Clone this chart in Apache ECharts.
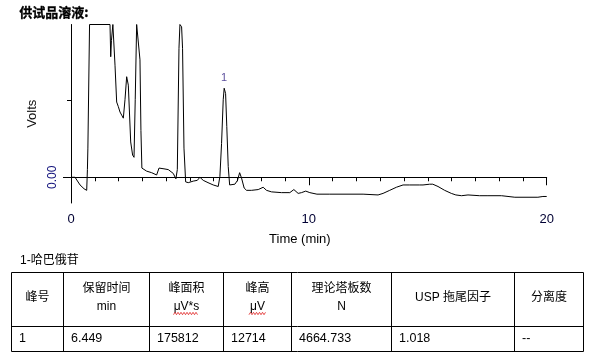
<!DOCTYPE html>
<html><head><meta charset="utf-8">
<script src="https://cdn.jsdelivr.net/npm/echarts@6/dist/echarts.min.js"></script>
<style>html,body{margin:0;padding:0;background:#fff}#c{width:595px;height:363px}</style>
</head><body><div id="c"></div>
<script>
// ---- data ----
const chartTitle = '供试品溶液:';
const xName = 'Time (min)';
const yName = 'Volts';
const times = [0, 0.17, 0.38, 0.55, 0.66, 0.69, 0.71, 0.78, 1.64, 1.67, 1.70, 1.76, 1.81, 1.85, 1.92, 1.99, 2.06, 2.13, 2.20, 2.27, 2.34, 2.37, 2.41, 2.51, 2.59, 2.65, 2.70, 2.76, 2.84, 2.90, 2.94, 2.98, 3.18, 3.39, 3.60, 3.70, 3.78, 3.91, 4.09, 4.30, 4.41, 4.47, 4.54, 4.58, 4.65, 4.69, 4.75, 4.82, 4.93, 5.14, 5.31, 5.42, 5.56, 5.76, 5.98, 6.19, 6.26, 6.33, 6.40, 6.44, 6.50, 6.55, 6.61, 6.67, 6.75, 6.89, 7.00, 7.09, 7.17, 7.28, 7.38, 7.59, 7.87, 8.08, 8.22, 8.43, 8.85, 9.20, 9.37, 9.55, 9.69, 9.87, 10.04, 10.34, 10.88, 12.28, 12.35, 12.91, 13.12, 13.40, 13.68, 13.96, 14.24, 14.66, 14.80, 15.08, 15.21, 15.43, 15.71, 15.99, 16.18, 16.42, 16.69, 17.18, 17.53, 17.61, 18.10, 18.66, 19.63, 19.84, 20.0];
const volts = [0, 0.00, -0.10, -0.15, -0.17, 0.10, 0.38, 1.99, 1.99, 1.57, 1.78, 1.99, 1.99, 1.46, 0.98, 0.92, 0.85, 0.81, 0.77, 1.01, 1.31, 1.33, 1.20, 0.46, 0.29, 0.26, 1.01, 1.99, 1.99, 1.53, 0.61, 0.12, 0.08, 0.06, 0.03, 0.12, 0.14, 0.11, 0.10, 0.05, -0.02, 0.10, 1.68, 1.99, 1.96, 1.68, 0.38, -0.06, -0.07, -0.05, -0.04, 0.00, -0.04, -0.07, -0.10, -0.12, 0.01, 0.44, 1.01, 1.16, 1.09, 0.66, 0.14, -0.10, -0.11, -0.09, -0.04, 0.06, -0.01, -0.14, -0.17, -0.17, -0.16, -0.13, -0.17, -0.19, -0.20, -0.20, -0.16, -0.21, -0.20, -0.18, -0.20, -0.22, -0.22, -0.22, -0.23, -0.23, -0.21, -0.17, -0.13, -0.10, -0.10, -0.10, -0.10, -0.09, -0.09, -0.12, -0.17, -0.21, -0.23, -0.24, -0.23, -0.24, -0.24, -0.25, -0.24, -0.26, -0.26, -0.25, -0.25];
const peakTimes = [6.44];
const peakVolts = [1.16];
const peakNames = ['1'];
const yLabelTicks = [0];
const yMinorTicks = [1];
const compoundName = '1-哈巴俄苷';
const tableHead1 = ['峰号', '保留时间', '峰面积', '峰高', '理论塔板数', 'USP 拖尾因子', '分离度'];
const tableHead2 = ['', 'min', 'μV*s', 'μV', 'N', '', ''];
const tableRow = ['1', '6.449', '175812', '12714', '4664.733', '1.018', '--'];
const flaggedUnits = ['μV*s', 'μV'];

// ---- layout ----
const colX = [11.5, 63.5, 149.5, 223.5, 291.5, 391.5, 514.5, 583.5];
const rowY = [272.5, 326.5, 351.5];
const FONT = '"Liberation Sans", Arial, "Noto Sans CJK SC", sans-serif';

const chart = echarts.init(document.getElementById('c'), null, {renderer: 'canvas'});
const graphics = [];
graphics.push({type: 'text', left: 19, top: 5, style: {text: chartTitle, font: 'bold 13px "Noto Sans CJK SC", sans-serif', fill: '#000', stroke: '#000', lineWidth: 0.3}});
graphics.push({type: 'text', x: 20, y: 261, style: {text: compoundName, font: '12px ' + FONT, fill: '#000', verticalAlign: 'middle'}});
// table lines
rowY.forEach(y => graphics.push({type: 'line', shape: {x1: colX[0], y1: y, x2: colX[colX.length - 1], y2: y}, style: {stroke: '#000', lineWidth: 1}}));
colX.forEach(x => graphics.push({type: 'line', shape: {x1: x, y1: rowY[0], x2: x, y2: rowY[2]}, style: {stroke: '#000', lineWidth: 1}}));
for (let i = 0; i < tableHead1.length; i++) {
  const cx = (colX[i] + colX[i + 1]) / 2;
  const two = tableHead2[i] !== '';
  graphics.push({type: 'text', x: cx, y: two ? 289 : 297.5, style: {text: tableHead1[i], font: '12px ' + FONT, fill: '#000', align: 'center', verticalAlign: 'middle'}});
  if (two) {
    graphics.push({type: 'text', x: cx, y: 307, style: {text: tableHead2[i], font: '12px ' + FONT, fill: '#000', align: 'center', verticalAlign: 'middle'}});
    if (flaggedUnits.indexOf(tableHead2[i]) >= 0) {
      const w = tableHead2[i] === 'μV*s' ? 24 : 17;
      const x0 = cx - (tableHead2[i] === 'μV*s' ? 13 : 8.5);
      const pts = [];
      for (let k = 0; k <= w; k += 1.5) pts.push([x0 + k, 313.5 + ((k / 1.5) % 2 ? -1.2 : 1.2)]);
      graphics.push({type: 'polyline', shape: {points: pts}, style: {stroke: '#e02020', lineWidth: 0.8, fill: null}});
    }
  }
  graphics.push({type: 'text', x: colX[i] + 7.5, y: 338.5, style: {text: tableRow[i], font: '12.5px ' + FONT, fill: '#000', verticalAlign: 'middle'}});
}

const option = {
  animation: false,
  backgroundColor: '#fff',
  grid: {left: 71, top: 24.5, right: 48.3, bottom: 160, containLabel: false},
  xAxis: {
    type: 'value', min: 0, max: 20, interval: 10,
    name: xName, nameLocation: 'middle', nameGap: 30,
    nameTextStyle: {fontSize: 13, color: '#000', fontFamily: FONT, padding: [0, 18, 0, 0]},
    axisLine: {lineStyle: {color: '#000', width: 1}},
    axisTick: {length: 8, lineStyle: {color: '#000'}},
    minorTick: {show: true, splitNumber: 10, length: 4, lineStyle: {color: '#000'}},
    splitLine: {show: false}, minorSplitLine: {show: false},
    axisLabel: {fontSize: 13, color: '#000033', fontFamily: FONT, margin: 10}
  },
  yAxis: [{
    type: 'value', min: -0.335, max: 1.99,
    name: yName, nameLocation: 'middle', nameGap: 31,
    nameTextStyle: {fontSize: 13, color: '#111', fontFamily: FONT},
    axisLine: {show: true, lineStyle: {color: '#000', width: 1}},
    axisTick: {show: true, customValues: yLabelTicks, length: 8, lineStyle: {color: '#000'}},
    axisLabel: {show: true, customValues: yLabelTicks, rotate: 90, fontSize: 12, color: '#10107a', fontFamily: FONT, margin: 12, formatter: v => v.toFixed(2)},
    splitLine: {show: false}
  }, {
    type: 'value', min: -0.335, max: 1.99, position: 'left',
    axisLine: {show: false},
    axisTick: {show: true, customValues: yMinorTicks, length: 4, lineStyle: {color: '#000'}},
    axisLabel: {show: false}, splitLine: {show: false}
  }],
  series: [{
    type: 'line', data: times.map((t, i) => [t, volts[i]]),
    showSymbol: false, symbol: 'none', clip: true,
    lineStyle: {color: '#000', width: 1}
  }, {
    type: 'scatter', data: peakTimes.map((t, i) => [t, peakVolts[i]]),
    symbolSize: 0.1, itemStyle: {color: 'transparent'},
    label: {show: true, position: 'top', distance: 5, fontSize: 11, color: '#2a1a80', fontFamily: FONT, formatter: p => peakNames[p.dataIndex]}
  }],
  graphic: graphics
};
chart.setOption(option);
</script>
</body></html>
